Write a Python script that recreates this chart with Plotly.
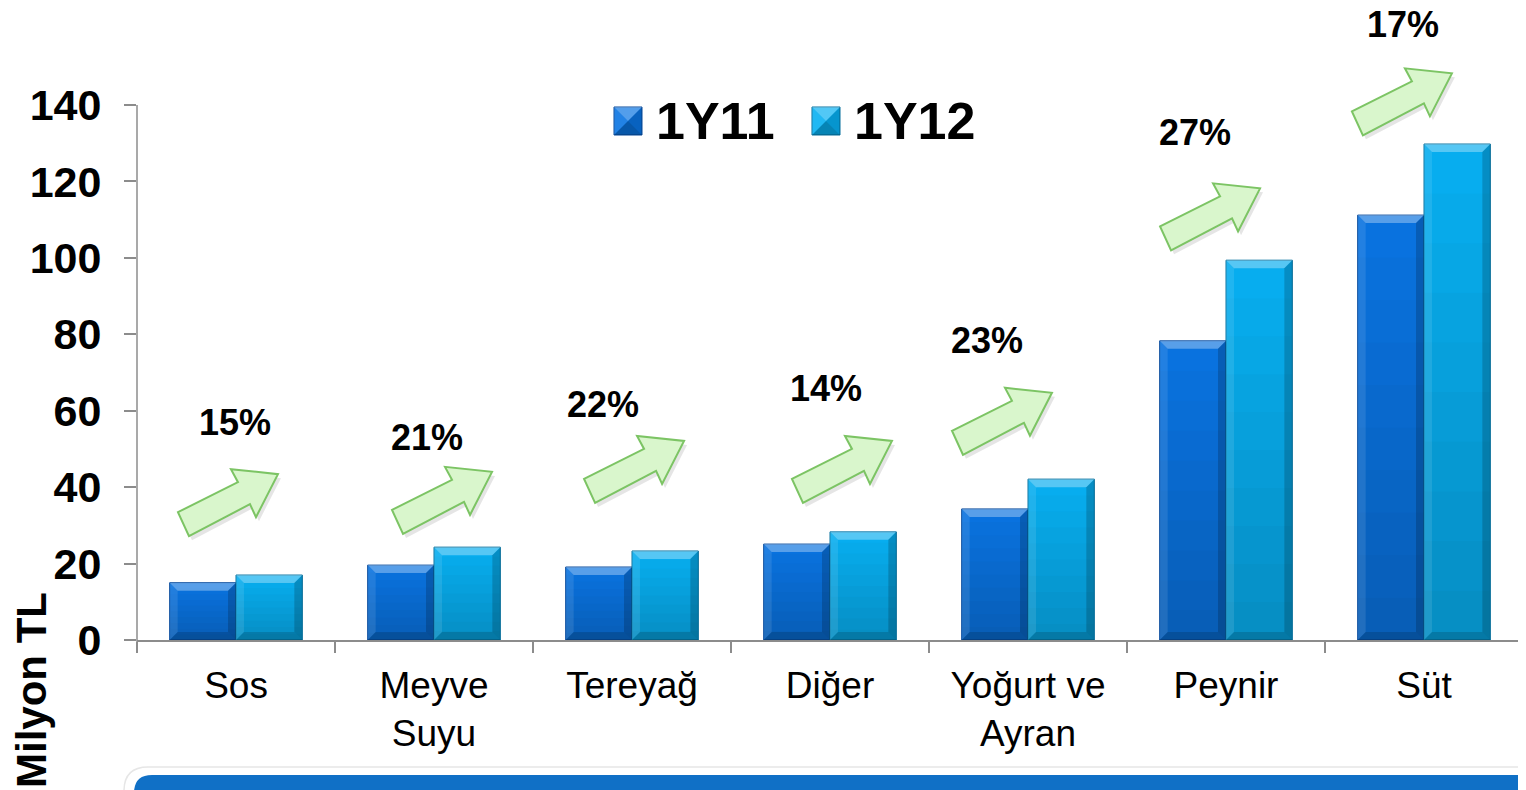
import plotly.graph_objects as go

# ---------------- data ----------------
categories = ["Sos", "Meyve<br>Suyu", "Tereyağ", "Diğer", "Yoğurt ve<br>Ayran", "Peynir", "Süt"]
series_names = ["1Y11", "1Y12"]
values_1y11 = [15.0, 19.6, 19.1, 25.1, 34.3, 78.3, 111.2]
values_1y12 = [17.0, 24.3, 23.3, 28.3, 42.1, 99.4, 129.8]
growth_labels = ["15%", "21%", "22%", "14%", "23%", "27%", "17%"]
y_tick_values = [0, 20, 40, 60, 80, 100, 120, 140]

# ---------------- layout / decoration (not data) ----------------
OFF = 8                      # page body margin
W, H = 1526 - OFF, 790 - OFF
ML, MR, MT, MB = 137 - OFF, 3, 0, 150
Y_RANGE = [0, 165.4]
X_RANGE = [-0.5, 6.5]
BARGAP = 0.33
# arrow tip position (category-index offset, value) and label position for each category
arrow_tip_dx = [0.212, 0.293, 0.263, 0.313, 0.121, 0.172, 0.141]
arrow_tip_y = [43.4, 44.0, 52.1, 52.1, 64.7, 118.2, 148.3]
label_dx = [-0.005, -0.035, -0.147, -0.019, -0.207, -0.157, -0.106]
label_y = [57.0, 53.1, 61.7, 65.7, 78.3, 132.7, 161.0]

COL_A = "#0A74E2"
COL_B = "#08B0F2"
COL_A_EDGE = "#06489A"
COL_B_EDGE = "#06709E"

PW = W - ML - MR
PH = H - MT - MB
FONT = "Liberation Sans, Arial"


def px_to_paper(px, py):
    # px, py: page pixel coordinates
    return (px - OFF - ML) / PW, (H - MB - (py - OFF)) / PH


def data_to_px(xc, yv):
    px = OFF + ML + (xc - X_RANGE[0]) / (X_RANGE[1] - X_RANGE[0]) * PW
    py = OFF + MT + (Y_RANGE[1] - yv) / (Y_RANGE[1] - Y_RANGE[0]) * PH
    return px, py


def path_from_px(points):
    parts = []
    for i, (px, py) in enumerate(points):
        fx, fy = px_to_paper(px, py)
        parts.append(("M" if i == 0 else "L") + f"{fx:.5f},{fy:.5f}")
    return " ".join(parts) + " Z"


fig = go.Figure()
fig.add_trace(go.Bar(
    x=categories, y=values_1y11, name=series_names[0],
    marker=dict(color=COL_A, line=dict(color=COL_A_EDGE, width=1)),
    showlegend=False,
))
fig.add_trace(go.Bar(
    x=categories, y=values_1y12, name=series_names[1],
    marker=dict(color=COL_B, line=dict(color=COL_B_EDGE, width=1)),
    showlegend=False,
))

shapes = []
annotations = []

# ---- bevel / gradient overlay on each bar (derived from the bar values) ----
half = (1 - BARGAP) / 2
BEV = 8
NB = 10
for series_idx, vals in enumerate([values_1y11, values_1y12]):
    for i, v in enumerate(vals):
        xl = i - half if series_idx == 0 else i
        xr = i if series_idx == 0 else i + half
        x0, y0 = data_to_px(xl, v)
        x1, y1 = data_to_px(xr, 0)
        hgt = y1 - y0
        for k in range(NB):
            ya = y0 + hgt * k / NB
            yb = y0 + hgt * (k + 1) / NB
            alpha = 0.20 * (k + 0.5) / NB
            shapes.append(dict(type="path", xref="paper", yref="paper",
                               path=path_from_px([(x0 + 0.5, ya), (x1 - 0.5, ya), (x1 - 0.5, yb), (x0 + 0.5, yb)]),
                               fillcolor=f"rgba(0,0,0,{alpha:.3f})", line=dict(width=0), layer="above"))
        b = min(BEV, hgt / 2)
        shapes.append(dict(type="path", xref="paper", yref="paper",
                           path=path_from_px([(x0, y0), (x1, y0), (x1 - b, y0 + b), (x0 + b, y0 + b)]),
                           fillcolor="rgba(255,255,255,0.32)", line=dict(width=0), layer="above"))
        shapes.append(dict(type="path", xref="paper", yref="paper",
                           path=path_from_px([(x0, y0), (x0 + b, y0 + b), (x0 + b, y1 - b), (x0, y1)]),
                           fillcolor="rgba(255,255,255,0.10)", line=dict(width=0), layer="above"))
        shapes.append(dict(type="path", xref="paper", yref="paper",
                           path=path_from_px([(x1, y0), (x1, y1), (x1 - b, y1 - b), (x1 - b, y0 + b)]),
                           fillcolor="rgba(0,0,0,0.18)", line=dict(width=0), layer="above"))
        shapes.append(dict(type="path", xref="paper", yref="paper",
                           path=path_from_px([(x0, y1), (x0 + b, y1 - b), (x1 - b, y1 - b), (x1, y1)]),
                           fillcolor="rgba(0,0,0,0.15)", line=dict(width=0), layer="above"))

# ---- growth arrows and labels ----
arrow_poly = [(-100, 38), (-40, 8), (-47, -5), (0, 0), (-22, 43), (-28, 30), (-89, 62)]
for i in range(len(categories)):
    tx, ty = data_to_px(i + arrow_tip_dx[i], arrow_tip_y[i])
    shp = [(tx + dx + 3, ty + dy + 4) for dx, dy in arrow_poly]
    shapes.append(dict(type="path", xref="paper", yref="paper", path=path_from_px(shp),
                       fillcolor="rgba(0,0,0,0.10)", line=dict(width=0), layer="above"))
    pts = [(tx + dx, ty + dy) for dx, dy in arrow_poly]
    shapes.append(dict(type="path", xref="paper", yref="paper", path=path_from_px(pts),
                       fillcolor="#D9F6CC", line=dict(color="#7CC464", width=2), layer="above"))
    lx, ly = data_to_px(i + label_dx[i], label_y[i])
    fx, fy = px_to_paper(lx, ly)
    annotations.append(dict(x=fx, y=fy, xref="paper", yref="paper", text=growth_labels[i],
                            showarrow=False, xanchor="center", yanchor="middle",
                            font=dict(family=FONT, size=36, color="black", weight="bold")))

# ---- y axis line (0 .. 140) with small extension below ----
ax_x, _ = px_to_paper(OFF + ML, 0)
_, yb = px_to_paper(0, OFF + H - MB + 11)
_, yt = px_to_paper(0, data_to_px(0, 140)[1])
shapes.append(dict(type="line", xref="paper", yref="paper", x0=ax_x, x1=ax_x, y0=yb, y1=yt,
                   line=dict(color="#8C8C8C", width=1.5)))

# ---- legend (manual, large) ----
leg_items = [(614, series_names[0], COL_A, COL_A_EDGE), (812, series_names[1], COL_B, COL_B_EDGE)]
for sx, name, col, edge in leg_items:
    sy = 107
    s = 28
    c = (sx + s / 2, sy + s / 2)
    corners = [(sx, sy), (sx + s, sy), (sx + s, sy + s), (sx, sy + s)]
    shades = ["rgba(255,255,255,0.30)", "rgba(0,0,0,0.15)", "rgba(0,0,0,0.25)", "rgba(255,255,255,0.10)"]
    shapes.append(dict(type="path", xref="paper", yref="paper", path=path_from_px(corners),
                       fillcolor=col, line=dict(color=edge, width=1)))
    for k in range(4):
        tri = [corners[k], corners[(k + 1) % 4], c]
        shapes.append(dict(type="path", xref="paper", yref="paper", path=path_from_px(tri),
                           fillcolor=shades[k], line=dict(width=0)))
    fx, fy = px_to_paper(sx + s + 12, sy + s / 2)
    annotations.append(dict(x=fx, y=fy, xref="paper", yref="paper", text=name, showarrow=False,
                            xanchor="left", yanchor="middle",
                            font=dict(family=FONT, size=52, color="black", weight="bold")))

# ---- y axis title ----
fx, fy = px_to_paper(31, 690)
annotations.append(dict(x=fx, y=fy, xref="paper", yref="paper", text="Milyon TL", showarrow=False,
                        textangle=-90, xanchor="center", yanchor="middle",
                        font=dict(family=FONT, size=42, color="black", weight="bold")))


# ---- bottom panel (white frame + blue box) ----
def rounded_top_rect(x0, y0, x1, y1, r):
    p = []
    a, b = px_to_paper(x0, y1)
    p.append(f"M{a:.5f},{b:.5f}")
    a, b = px_to_paper(x0, y0 + r)
    p.append(f"L{a:.5f},{b:.5f}")
    a, b = px_to_paper(x0, y0)
    c2, d2 = px_to_paper(x0 + r, y0)
    p.append(f"Q{a:.5f},{b:.5f} {c2:.5f},{d2:.5f}")
    a, b = px_to_paper(x1 - r, y0)
    p.append(f"L{a:.5f},{b:.5f}")
    a, b = px_to_paper(x1, y0)
    c2, d2 = px_to_paper(x1, y0 + r)
    p.append(f"Q{a:.5f},{b:.5f} {c2:.5f},{d2:.5f}")
    a, b = px_to_paper(x1, y1)
    p.append(f"L{a:.5f},{b:.5f} Z")
    return " ".join(p)


shapes.append(dict(type="path", xref="paper", yref="paper",
                   path=rounded_top_rect(124, 767, 1540, 800, 24),
                   fillcolor="white", line=dict(color="#E6E6E6", width=1.5)))
shapes.append(dict(type="path", xref="paper", yref="paper",
                   path=rounded_top_rect(134, 775, 1540, 800, 18),
                   fillcolor="#1070C6", line=dict(width=0)))

fig.update_layout(
    width=W, height=H,
    margin=dict(l=ML, r=MR, t=MT, b=MB, pad=0),
    paper_bgcolor="white", plot_bgcolor="white",
    barmode="group", bargap=BARGAP, bargroupgap=0,
    shapes=shapes, annotations=annotations,
    showlegend=False,
    xaxis=dict(type="category", range=X_RANGE, showgrid=False, zeroline=False,
               showline=True, linecolor="#8C8C8C", linewidth=1.5,
               ticks="outside", tickson="boundaries", ticklen=11, tickcolor="#8C8C8C", tickwidth=1.5,
               tickfont=dict(family=FONT, size=37, color="black"),
               ticklabelstandoff=12),
    yaxis=dict(range=Y_RANGE, tickvals=y_tick_values, showgrid=False, zeroline=False,
               showline=False, ticks="outside", ticklen=12, tickcolor="#8C8C8C", tickwidth=1.5,
               tickfont=dict(family=FONT, size=43, color="black", weight="bold"),
               ticklabelstandoff=14),
)

fig.write_html("out.html")
